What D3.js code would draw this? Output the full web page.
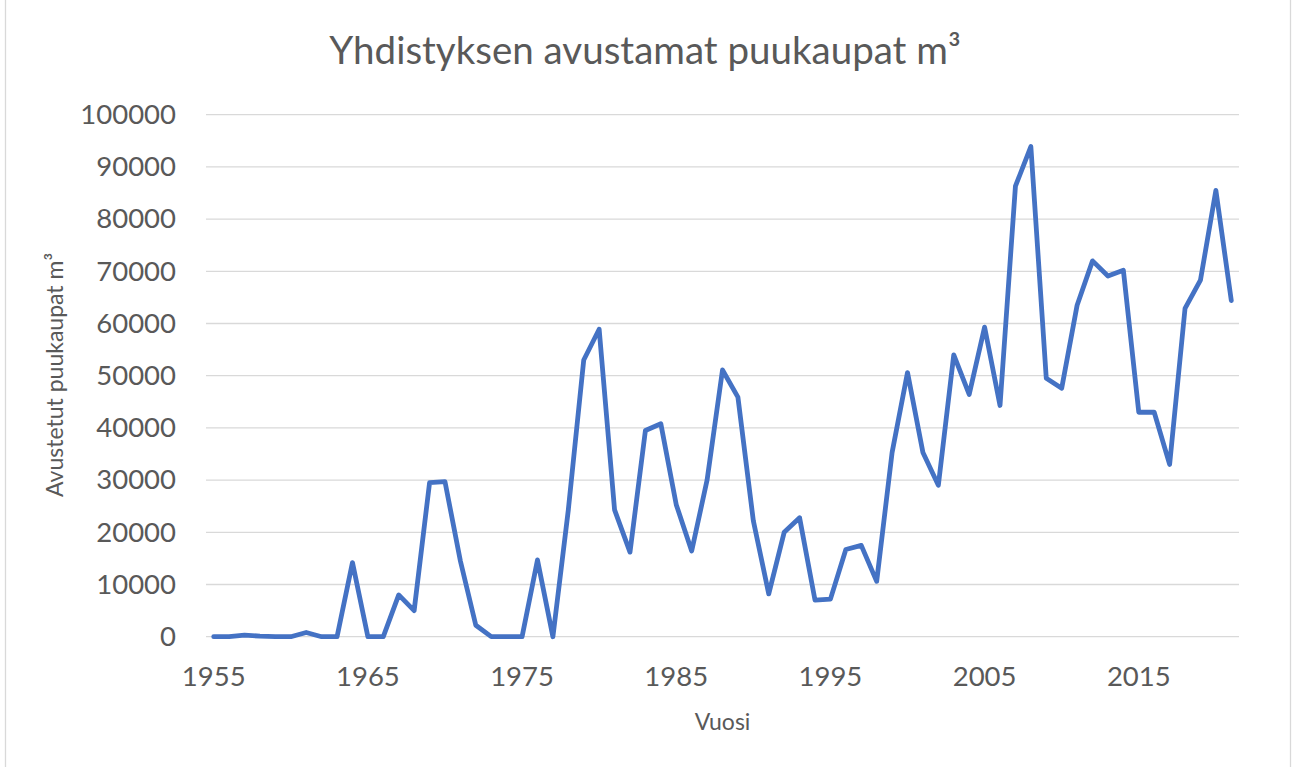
<!DOCTYPE html>
<html>
<head>
<meta charset="utf-8">
<script src="https://cdn.jsdelivr.net/npm/d3@7"></script>
<style>
  body { margin: 0; background: #fff; }
  text { font-family: Lato, "Open Sans", sans-serif; fill: #595959; }
</style>
</head>
<body>
<div id="chart"></div>
<script>
// data
const years = d3.range(1955, 2022);
const volumes = [
  0, 0, 300, 100, 0, 0, 800, 0, 0, 14200,            // 1955-1964
  0, 0, 8000, 5000, 29500, 29700, 14500, 2200, 0, 0,  // 1965-1974
  0, 14700, 0, 24300, 53000, 58900, 24300, 16200, 39500, 40800, // 1975-1984
  25300, 16400, 30000, 51100, 45900, 22200, 8200, 20000, 22800, 7000, // 1985-1994
  7200, 16700, 17500, 10600, 35300, 50600, 35300, 29000, 54000, 46400, // 1995-2004
  59300, 44300, 86300, 93900, 49500, 47600, 63500, 72000, 69100, 70200, // 2005-2014
  43000, 43000, 33000, 62900, 68300, 85500, 64400     // 2015-2021
];
const yTicks = [0, 10000, 20000, 30000, 40000, 50000, 60000, 70000, 80000, 90000, 100000];
const xTickLabels = [1955, 1965, 1975, 1985, 1995, 2005, 2015];

const chartTitle = "Yhdistyksen avustamat puukaupat m³";
const yTitle = "Avustetut puukaupat m³";
const xTitle = "Vuosi";

// dimensions
const W = 1292, H = 767;
const plot = {left: 206, right: 1239, top: 114.7, bottom: 636.7};

const svg = d3.select("#chart")
    .append("svg")
    .attr("width", W)
    .attr("height", H);

// chart border (only the sides show inside the picture)
svg.append("rect")
    .attr("x", 5.5)
    .attr("y", -10)
    .attr("width", 1285)
    .attr("height", H + 20)
    .attr("fill", "none")
    .attr("stroke", "#d9d9d9")
    .attr("stroke-width", 1.3);

// scales
const x = d3.scaleBand()
    .domain(years)
    .range([plot.left, plot.right]);
const y = d3.scaleLinear()
    .domain([0, 100000])
    .range([plot.bottom, plot.top]);

const xc = d => x(d) + x.bandwidth() / 2;

// gridlines
svg.append("g")
    .selectAll("line")
    .data(yTicks)
    .join("line")
    .attr("x1", plot.left)
    .attr("x2", plot.right)
    .attr("y1", d => y(d))
    .attr("y2", d => y(d))
    .attr("stroke", "#d9d9d9")
    .attr("stroke-width", 1.3);

// Y axis labels
const yAxis = svg.append("g")
    .attr("transform", `translate(${plot.left}, 0)`)
    .call(d3.axisLeft(y).tickValues(yTicks).tickFormat(d3.format("d")).tickSize(0).tickPadding(30));
yAxis.select(".domain").remove();
yAxis.selectAll("text")
    .style("font-size", "27.5px")
    .attr("fill", "#595959");

// X axis labels
const xAxis = svg.append("g")
    .attr("transform", `translate(0, ${plot.bottom})`)
    .call(d3.axisBottom(x).tickValues(xTickLabels).tickSize(0).tickPadding(30));
xAxis.select(".domain").remove();
xAxis.selectAll("text")
    .style("font-size", "27.5px")
    .attr("fill", "#595959");

// the line
const line = d3.line()
    .x((d, i) => xc(years[i]))
    .y(d => y(d));

svg.append("path")
    .datum(volumes)
    .attr("d", line)
    .attr("fill", "none")
    .attr("stroke", "#4472C4")
    .attr("stroke-width", 4.8)
    .attr("stroke-linejoin", "round")
    .attr("stroke-linecap", "round");

// titles
svg.append("text")
    .attr("x", 645)
    .attr("y", 64)
    .attr("text-anchor", "middle")
    .style("font-size", "38.5px")
    .text(chartTitle);

svg.append("text")
    .attr("x", (plot.left + plot.right) / 2)
    .attr("y", 730)
    .attr("text-anchor", "middle")
    .style("font-size", "23px")
    .text(xTitle);

svg.append("text")
    .attr("transform", `translate(63, 375) rotate(-90)`)
    .attr("text-anchor", "middle")
    .style("font-size", "23px")
    .text(yTitle);
</script>
</body>
</html>
